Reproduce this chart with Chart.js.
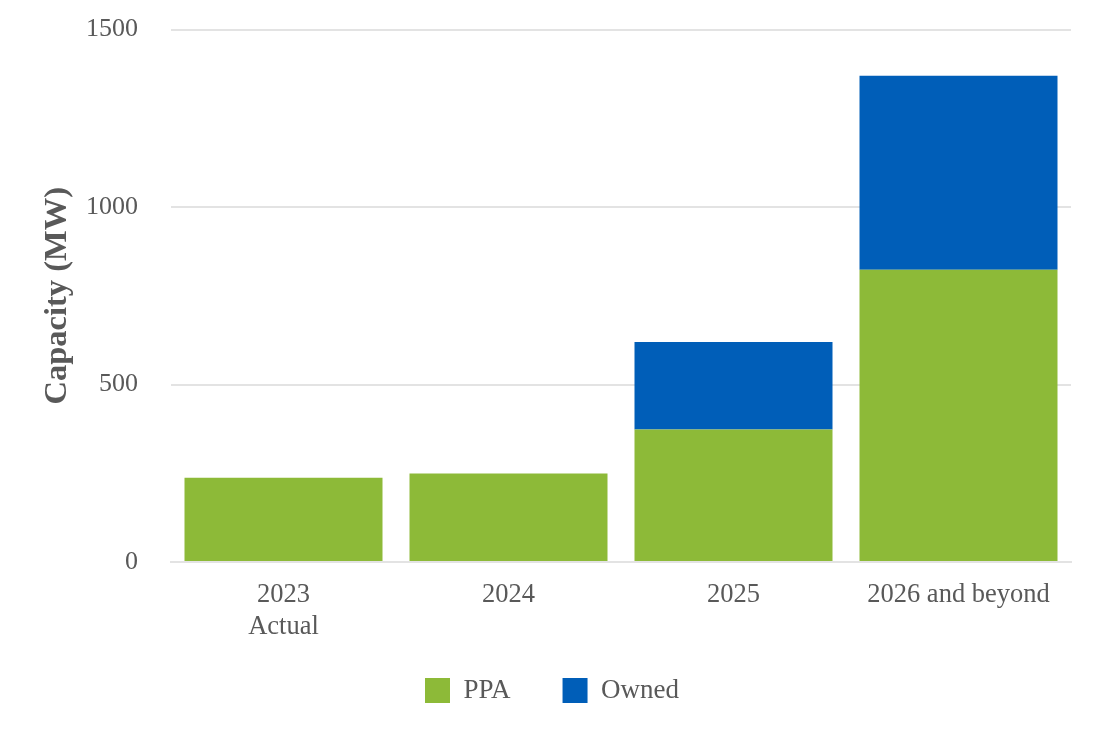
<!DOCTYPE html>
<html>
<head>
<meta charset="utf-8">
<script src="https://cdn.jsdelivr.net/npm/chart.js@4"></script>
<style>
  html, body { margin: 0; padding: 0; background: #fff; }
  #wrap { width: 1100px; height: 748px; }
</style>
</head>
<body>
<div id="wrap"><canvas id="cap"></canvas></div>
<script>
'use strict';

// ---- data ----
const categories = [['2023', 'Actual'], '2024', '2025', '2026 and beyond'];
const seriesNames = ['PPA', 'Owned'];
const ppaValues = [237, 249, 373, 823];
const ownedValues = [0, 0, 247, 547];
const yTicks = [0, 500, 1000, 1500];

const TEXT = '#595959';
const GRID = '#e3e3e3';
const FONT = "'Liberation Serif', 'Times New Roman', serif";

Chart.defaults.font.family = FONT;
Chart.defaults.color = TEXT;

new Chart(document.getElementById('cap').getContext('2d'), {
  type: 'bar',
  data: {
    labels: categories,
    datasets: [
      { label: seriesNames[0], data: ppaValues, backgroundColor: '#8dba38', borderWidth: 0 },
      { label: seriesNames[1], data: ownedValues, backgroundColor: '#005eb8', borderWidth: 0 }
    ]
  },
  options: {
    responsive: true,
    maintainAspectRatio: false,
    animation: false,
    layout: { padding: { top: 29.5, right: 29, left: 33, bottom: 34 } },
    datasets: { bar: { categoryPercentage: 0.88, barPercentage: 1 } },
    plugins: {
      tooltip: { enabled: false },
      legend: {
        position: 'bottom',
        labels: {
          boxWidth: 25, boxHeight: 25, padding: 25, font: { size: 27 }, color: TEXT,
          // wider gap between the two items than the box padding gives
          generateLabels: (chart) => Chart.defaults.plugins.legend.labels.generateLabels(chart)
            .map((it, i) => ({ ...it, text: i === 0 ? it.text + '    ' : it.text }))
        }
      }
    },
    scales: {
      x: {
        stacked: true,
        grid: { display: false, drawTicks: false },
        border: { color: GRID, width: 2 },
        ticks: { padding: 17, font: { size: 26.5 }, color: TEXT, maxRotation: 0 },
        afterFit: (s) => { s.height = 90; }
      },
      y: {
        stacked: true,
        min: 0,
        max: 1500,
        afterBuildTicks: (s) => { s.ticks = yTicks.map(v => ({ value: v })); },
        grid: { color: GRID, lineWidth: 2, drawTicks: false },
        border: { display: false },
        ticks: { padding: 33, font: { size: 26 }, color: TEXT, callback: (v) => String(v) },
        title: {
          display: true,
          text: 'Capacity (MW)',
          font: { size: 32.5, weight: 'bold' },
          color: TEXT,
          padding: { top: 5, bottom: 0 }
        },
        afterFit: (s) => { s.width = 138; s.paddingTop = 0; s.paddingBottom = 0; }
      }
    }
  }
});
</script>
</body>
</html>
